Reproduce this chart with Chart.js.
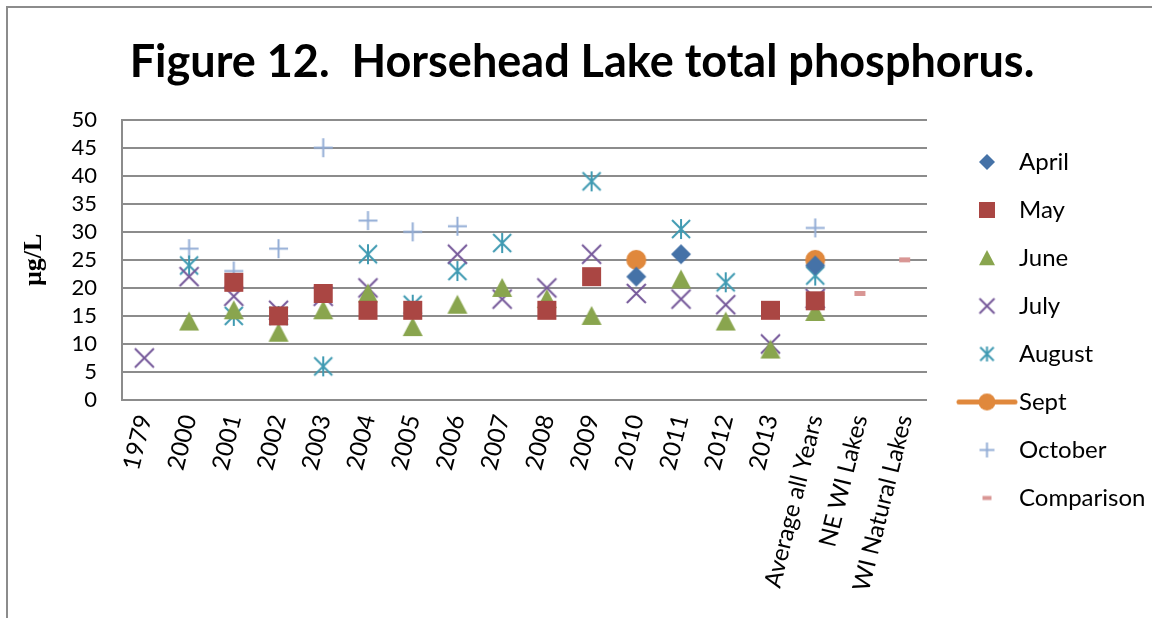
<!DOCTYPE html>
<html>
<head>
<meta charset="utf-8">
<title>Horsehead Lake total phosphorus</title>
<script src="https://cdn.jsdelivr.net/npm/chart.js@4"></script>
<style>
  html, body { margin: 0; padding: 0; background: #fff; }
  #wrap { position: relative; width: 1152px; height: 618px; overflow: hidden; }
  #frame { position: absolute; left: 6px; top: 6px; width: 1300px; height: 700px;
           border-top: 2px solid #8c8c8c; border-left: 2px solid #8c8c8c; }
  #chart { position: absolute; left: 0; top: 0; }
</style>
</head>
<body>
<div id="wrap">
  <div id="frame"></div>
  <canvas id="chart" width="1152" height="618"></canvas>
</div>
<script>
const categories = ['1979', '2000', '2001', '2002', '2003', '2004', '2005', '2006', '2007',
  '2008', '2009', '2010', '2011', '2012', '2013', 'Average all Years', 'NE WI Lakes', 'WI Natural Lakes'];

const n = null;
// total phosphorus, ug/L, one slot per category
const april      = [n, n, n, n, n, n, n, n, n, n, n, 22, 26, n, n, 24, n, n];
const may        = [n, n, 21, 15, 19, 16, 16, n, n, 16, 22, n, n, n, 16, 17.7, n, n];
const june       = [n, 14, 16, 12, 16, 19, 13, 17, 20, 18, 15, n, 21.5, 14, 9, 15.7, n, n];
const july       = [7.5, 22, 18.5, 16, 18.5, 20, n, 26, 18, 20, 26, 19, 18, 17, 10, 18.1, n, n];
const august     = [n, 24, 15, 15, 6, 26, 17, 23, 28, n, 39, n, 30.5, 21, n, 22.2, n, n];
const sept       = [n, n, n, n, n, n, n, n, n, n, n, 25, n, n, n, 25, n, n];
const october    = [n, 27, 23, 27, 45, 32, 30, 31, n, n, n, n, n, n, n, 30.7, n, n];
const comparison = [n, n, n, n, n, n, n, n, n, n, n, n, n, n, n, n, 19, 25];

const yTicks = { min: 0, max: 50, step: 5 };

const colors = {
  april: '#4572a7', may: '#aa4643', june: '#89a54e', july: '#76599a',
  august: '#3f9ab2', sept: '#e0883c', october: '#93add6', comparison: '#d99694'
};

// little offscreen canvases used as point styles
function marker(kind, size, color, shift) {
  shift = shift || 0;
  const c = document.createElement('canvas');
  const span = kind === 'lineDot' ? 62 : size + 6;
  c.width = span + 2 * Math.abs(shift);
  c.height = size + 6;
  const g = c.getContext('2d');
  const x = c.width / 2 + shift, y = c.height / 2, r = size / 2;
  g.fillStyle = color;
  g.strokeStyle = color;
  g.lineWidth = 2;
  g.beginPath();
  switch (kind) {
    case 'diamond':
      g.moveTo(x, y - r); g.lineTo(x + r, y); g.lineTo(x, y + r); g.lineTo(x - r, y);
      g.closePath(); g.fill();
      break;
    case 'square':
      g.fillRect(x - r, y - r, size, size);
      break;
    case 'triangle':
      g.moveTo(x, y - r); g.lineTo(x + r, y + r * 0.9); g.lineTo(x - r, y + r * 0.9);
      g.closePath(); g.fill();
      break;
    case 'x':
      g.moveTo(x - r, y - r); g.lineTo(x + r, y + r);
      g.moveTo(x + r, y - r); g.lineTo(x - r, y + r);
      g.stroke();
      break;
    case 'star':
      g.moveTo(x - r * 0.9, y - r * 0.9); g.lineTo(x + r * 0.9, y + r * 0.9);
      g.moveTo(x + r * 0.9, y - r * 0.9); g.lineTo(x - r * 0.9, y + r * 0.9);
      g.moveTo(x, y - r); g.lineTo(x, y + r);
      g.stroke();
      break;
    case 'plus':
      g.moveTo(x - r, y); g.lineTo(x + r, y);
      g.moveTo(x, y - r); g.lineTo(x, y + r);
      g.stroke();
      break;
    case 'circle':
      g.arc(x, y, r, 0, Math.PI * 2); g.fill();
      break;
    case 'lineDot':
      g.lineWidth = 5; g.lineCap = 'round';
      g.moveTo(x - 28, y); g.lineTo(x + 28, y); g.stroke();
      g.beginPath(); g.arc(x, y, r, 0, Math.PI * 2); g.fill();
      break;
    case 'dash':
      g.fillRect(x - r, y - r * 0.45, size, size * 0.45);
      break;
  }
  return c;
}

const series = [
  { label: 'April', data: april, color: colors.april, kind: 'diamond', size: 20, key: 16 },
  { label: 'May', data: may, color: colors.may, kind: 'square', size: 19, key: 16 },
  { label: 'June', data: june, color: colors.june, kind: 'triangle', size: 20, key: 16 },
  { label: 'July', data: july, color: colors.july, kind: 'x', size: 19, key: 15 },
  { label: 'August', data: august, color: colors.august, kind: 'star', size: 20, key: 15 },
  { label: 'Sept', data: sept, color: colors.sept, kind: 'circle', size: 20, key: 17 },
  { label: 'October', data: october, color: colors.october, kind: 'plus', size: 19, key: 15 },
  { label: 'Comparison', data: comparison, color: colors.comparison, kind: 'dash', size: 11, key: 9 }
];

const legendMarks = series.map(s =>
  marker(s.kind === 'circle' ? 'lineDot' : s.kind, s.key, s.color, 8));

const datasets = series.map(s => ({
  label: s.label,
  data: s.data,
  pointStyle: marker(s.kind, s.size, s.color),
  pointRadius: 10,
  pointHoverRadius: 10,
  borderColor: s.color,
  backgroundColor: s.color,
  borderWidth: 4,
  showLine: s.label === 'Sept',
  spanGaps: false
}));

new Chart(document.getElementById('chart'), {
  type: 'line',
  data: { labels: categories, datasets: datasets },
  options: {
    responsive: false,
    animation: false,
    layout: { padding: { top: 42, left: 12, right: 0, bottom: 0 } },
    plugins: {
      title: {
        display: true,
        text: 'Figure 12.  Horsehead Lake total phosphorus.',
        color: '#000',
        font: { family: 'Lato', size: 45, weight: 'bold', lineHeight: 0.9 },
        padding: { top: 0, bottom: 37.2 }
      },
      legend: {
        position: 'right',
        align: 'center',
        maxWidth: 225,
        labels: {
          usePointStyle: true,
          pointStyleWidth: 56,
          padding: 24,
          color: '#000',
          font: { family: 'Lato', size: 24 },
          generateLabels: chart => chart.data.datasets.map((ds, i) => ({
            text: ds.label,
            fontColor: '#000',
            pointStyle: legendMarks[i],
            fillStyle: 'transparent',
            strokeStyle: 'transparent',
            lineWidth: 0,
            hidden: false,
            datasetIndex: i
          }))
        }
      },
      tooltip: { enabled: false }
    },
    scales: {
      x: {
        offset: true,
        grid: { display: false, drawTicks: false },
        border: { display: false },
        ticks: {
          autoSkip: false, minRotation: 76, maxRotation: 76, padding: 12,
          color: '#000', font: { family: 'Lato', size: 24 }
        },
        afterFit: s => { s.height = 218; }
      },
      y: {
        min: yTicks.min,
        max: yTicks.max,
        ticks: {
          stepSize: yTicks.step, autoSkip: false, padding: 25,
          color: '#000', font: { family: 'Lato', size: 22 }
        },
        grid: { color: '#8c8c8c', lineWidth: 2, drawTicks: false },
        border: { color: '#8c8c8c', width: 2 },
        title: {
          display: true, text: 'µg/L', color: '#000',
          font: { family: 'Liberation Serif', size: 26, weight: 'bold' },
          padding: { top: 7, bottom: 0 }
        },
        afterFit: s => { s.width = 110; }
      }
    }
  }
});
</script>
</body>
</html>
